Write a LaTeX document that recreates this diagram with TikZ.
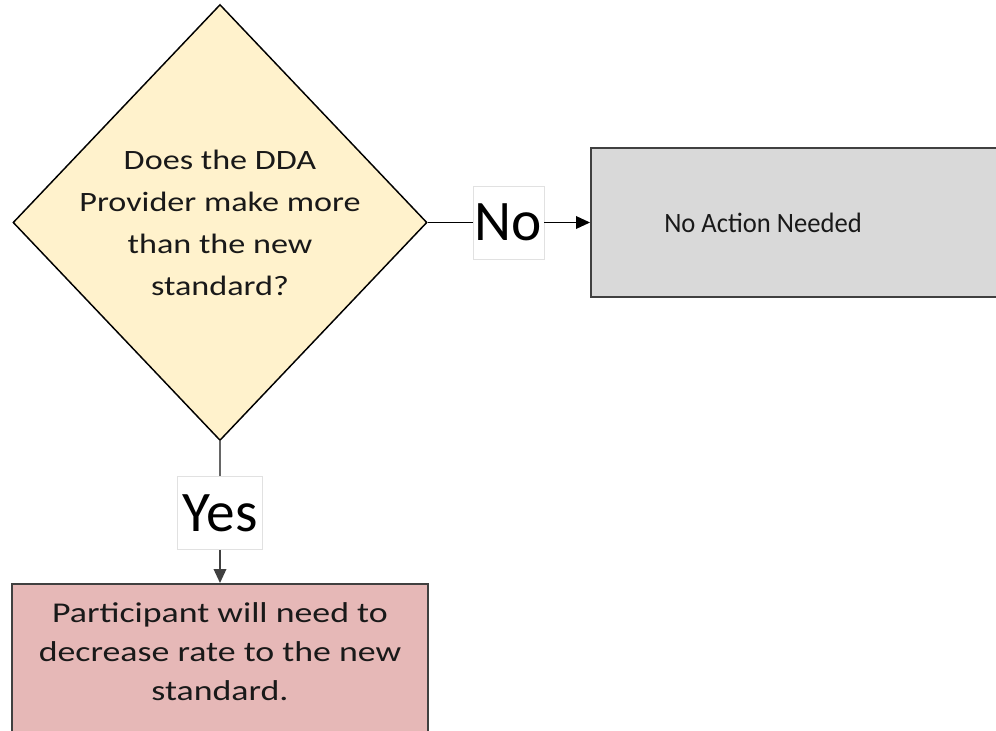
\documentclass[tikz,border=0pt]{standalone}
\usepackage{fontspec}
\setmainfont{Carlito}
\newfontfamily\widefont[FakeStretch=1.22]{Carlito}
\newfontfamily\widerfont[FakeStretch=1.25]{Carlito}
\newfontfamily\narrowfont[FakeStretch=0.95]{Carlito}
\usetikzlibrary{shapes.geometric,arrows.meta}
\definecolor{decisionfill}{RGB}{255,242,204}
\definecolor{nofill}{RGB}{217,217,217}
\definecolor{yesfill}{RGB}{230,184,183}
\definecolor{boxline}{RGB}{64,64,64}
\definecolor{tagline}{RGB}{225,225,225}
\tikzset{
  decision/.style={diamond, draw=black, line width=1.1pt, fill=decisionfill,
    minimum width=414*0.75pt, minimum height=436*0.75pt, inner sep=0pt},
  outcome/.style={rectangle, draw=boxline, line width=1.6pt, inner sep=0pt},
  bodytext/.style={align=center, inner sep=0pt, text=black!90},
  tag/.style={rectangle, fill=white, draw=tagline, line width=0.5pt,
    font=\fontsize{43}{50}\selectfont, minimum height=73*0.75pt, inner sep=0pt},
  link/.style={line width=1.1pt},
  flow/.style={link, -{Triangle[length=10.5pt,width=9.5pt]}}
}
\begin{document}
\begin{tikzpicture}[x=0.75pt,y=-0.75pt]
  \useasboundingbox (0,0) rectangle (996,731);
  \clip (0,0) rectangle (996,731);

  % decision
  \node[decision] (q) at (220,222.5) {};
  \node[bodytext, font=\widefont\fontsize{21}{31.5}\selectfont] (qtext) at (220,223)
    {Does the DDA\\Provider make more\\than the new\\standard?};

  % outcome for "No"
  \node[outcome, fill=nofill, anchor=west, minimum width=520*0.75pt, minimum height=149*0.75pt] (na) at (590,222.5) {};
  \node[bodytext, font=\narrowfont\fontsize{21}{30}\selectfont] (natext) at (763,223) {No Action Needed};

  % outcome for "Yes"
  \node[outcome, fill=yesfill, anchor=north, minimum width=416*0.75pt, minimum height=200*0.75pt] (part) at (220,583) {};
  \node[bodytext, font=\widerfont\fontsize{21.5}{29.3}\selectfont] (parttext) at (220,652)
    {Participant will need to\\decrease rate to the new\\standard.};

  % branch tags
  \node[tag, minimum width=71*0.75pt] (no) at (508.5,222.5) {No};
  \node[tag, minimum width=85*0.75pt] (yes) at (220,513) {Yes};

  % connectors
  \draw[link, black] (q.east) -- (no.west);
  \draw[flow, black] (no.east) -- (na.west);
  \draw[link, black!60] (q.south) -- (yes.north);
  \draw[flow, black!75] (yes.south) -- (part.north);
\end{tikzpicture}
\end{document}
